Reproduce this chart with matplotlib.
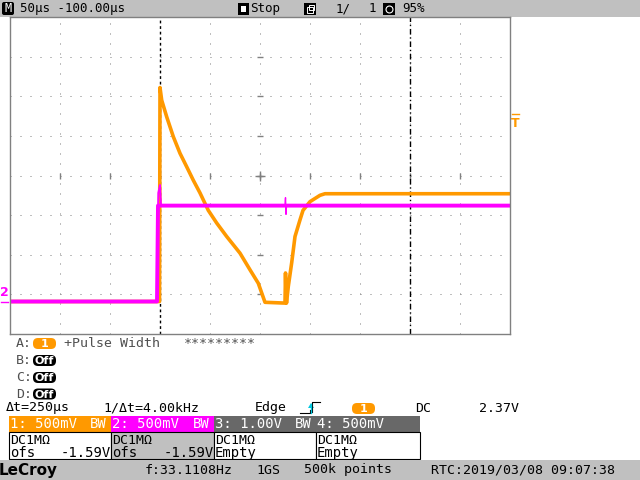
import matplotlib
matplotlib.use("Agg")
import matplotlib.pyplot as plt
from matplotlib.patches import Rectangle, FancyBboxPatch, Polygon

ORANGE = "#ff9900"
MAGENTA = "#ff00ff"
BAR_GRAY = "#c0c0c0"
DARK_GRAY = "#686868"
MONO = "DejaVu Sans Mono"

# scope settings
time_per_div = 50        # us / div
volts_per_div = 0.5      # V / div
offset = -1.59           # V
trig_level = 2.37        # V
cursor_t = 250           # us
t_left, t_right = -150, 350

# channel 1 (orange): time in us from trigger, volts
ch1_t = [-150, 0, 0.5, 2.2, 7.2, 13.8, 20.5, 27.2, 33.8, 40.5, 48.8, 57.2, 67.2,
         80.5, 90.5, 98.8, 105.5, 125.5, 126, 126.5, 127, 128.8, 132.2, 135.5,
         140.5, 143.5, 150.5, 160.5, 165.5, 350]
ch1_v = [0.0, 0.0, 2.70, 2.54, 2.33, 2.08, 1.87, 1.70, 1.53, 1.37, 1.15, 0.99, 0.82,
         0.61, 0.40, 0.23, -0.01, -0.02, 0.36, 0.10, -0.02, 0.19, 0.49, 0.82,
         1.03, 1.15, 1.26, 1.34, 1.36, 1.36]

# channel 2 (magenta)
ch2_t = [-150, -2.5, -1.5, 1.5, 350]
ch2_v = [0.0, 0.0, 1.21, 1.21, 1.21]
# short glitches on channel 2 (edge overshoot and spike at 126 us)
ch2_edge_t = [-2.5, -2.0, -1.2, 0.5, 1.5]
ch2_edge_v = [0.0, 0.68, 1.37, 1.47, 1.21]
ch2_glitch_t = [125.5, 126, 126.5, 127]
ch2_glitch_v = [1.21, 1.31, 1.10, 1.21]

# channel boxes
ch_headers = ["1: 500mV", "2: 500mV", "3: 1.00V", "4: 500mV"]
ch_bw = ["BW", "BW", "BW", ""]
ch_coupling = ["DC1M\u03a9"] * 4
ch_offsets = ["-1.59V", "-1.59V", None, None]
ch_head_colors = [ORANGE, MAGENTA, DARK_GRAY, DARK_GRAY]
ch_body_colors = ["white", BAR_GRAY, "white", "white"]

fig = plt.figure(figsize=(6.4, 4.8), dpi=100)
fig.patch.set_facecolor("white")

# overlay in pixel coordinates for the instrument UI
ui = fig.add_axes([0, 0, 1, 1], zorder=0)
ui.set_xlim(0, 640)
ui.set_ylim(480, 0)
ui.axis("off")


def txt(x, y, s, size=9.5, color="black", ha="left", **kw):
    ui.text(x, y, s, fontsize=size, color=color, ha=ha, va="center",
            family=MONO, **kw)


def pill(x, y, w, h, color, label, tcolor="white"):
    ui.add_patch(FancyBboxPatch((x, y), w, h, boxstyle="round,pad=0,rounding_size=5",
                                fc=color, ec="none"))
    ui.text(x + w / 2, y + h / 2 + 0.5, label, fontsize=8, color=tcolor, ha="center",
            va="center", family="DejaVu Sans", fontweight="bold")


# top bar
ui.add_patch(Rectangle((0, 0), 640, 17, fc=BAR_GRAY, ec="none"))
ui.add_patch(FancyBboxPatch((2, 2), 12, 13, boxstyle="round,pad=0,rounding_size=2",
                            fc="black", ec="none"))
txt(8, 9, "M", size=8.5, color="white", ha="center")
txt(20, 8.5, "50\u00b5s -100.00\u00b5s", size=9)
ui.add_patch(Rectangle((238, 3), 11, 12, fc="black", ec="none"))
ui.add_patch(Rectangle((241, 6), 5, 6, fc="white", ec="none"))
txt(250, 8.5, "Stop", size=9)
ui.add_patch(Rectangle((304, 3), 12, 12, fc="black", ec="none"))
ui.add_patch(Rectangle((307, 7), 6, 6, fc="none", ec="white", lw=0.7))
ui.add_patch(Rectangle((309, 5), 5, 5, fc="none", ec="white", lw=0.7))
txt(336, 8.5, "1/", size=9)
txt(369, 8.5, "1", size=9)
ui.add_patch(Rectangle((383, 3), 12, 12, fc="black", ec="none"))
ui.plot(389, 9, "o", ms=5, mfc="none", mec="white", mew=0.8)
txt(402, 8.5, "95%", size=9)

# trigger position marker and side markers
ui.add_patch(Polygon([(156, 17.5), (163, 17.5), (159.5, 21.5)], fc=ORANGE, ec="none"))
ui.plot([512, 519], [113.5, 113.5], color=ORANGE, lw=1)
ui.text(515.5, 123.5, "T", fontsize=9, color=ORANGE, ha="center", va="center",
        family="DejaVu Sans", fontweight="bold")
ui.text(4.5, 292, "2", fontsize=9, color=MAGENTA, ha="center", va="center",
        family="DejaVu Sans", fontweight="bold")
ui.plot([1, 8], [302, 302], color=MAGENTA, lw=1)

# measurement rows
row_color = "#505050"
txt(16, 343.5, "A:", color=row_color)
pill(33, 338, 23, 11, ORANGE, "1")
txt(64, 343.5, "+Pulse Width", color=row_color)
txt(184, 343.5, "*********", color=row_color)
for lab, yy in zip(["B:", "C:", "D:"], [360.5, 377.5, 394]):
    txt(16, yy, lab, color=row_color)
    pill(33, yy - 5.5, 23, 11, "black", "Off")

txt(6, 408, "\u0394t=250\u00b5s")
txt(103, 408, "1/\u0394t=4.00kHz")
txt(255, 408, "Edge")
ui.plot([300, 310, 310], [413, 413, 410], color="black", lw=0.8)
ui.plot([312, 312, 320], [412, 402, 402], color="black", lw=0.8)
ui.plot([311, 311], [413, 404], color="#00c8e0", lw=1)
ui.add_patch(Polygon([(308, 408), (314, 408), (311, 403)], fc="#00c8e0", ec="none"))
pill(352, 403, 23, 11, ORANGE, "1")
txt(415, 408, "DC")
txt(479, 408, "2.37V")

# channel boxes
box_x = [9, 111, 214, 316]
box_w = [102, 103, 102, 104]
for i in range(4):
    x, w = box_x[i], box_w[i]
    ui.add_patch(Rectangle((x, 416), w, 15.5, fc=ch_head_colors[i], ec="none"))
    ui.add_patch(Rectangle((x, 431.5), w, 27.5, fc=ch_body_colors[i], ec="black", lw=0.8))
    txt(x + 1, 424, ch_headers[i], color="white", size=10)
    if ch_bw[i]:
        txt(x + w - 4, 424, ch_bw[i], color="white", ha="right", size=10)
    txt(x + 1, 440, ch_coupling[i])
    if ch_offsets[i]:
        txt(x + 1, 453, "ofs", size=10)
        txt(x + w, 453, ch_offsets[i], ha="right", size=10)
    else:
        txt(x + 1, 453, "Empty", size=10)

# status bar
ui.add_patch(Rectangle((0, 459.5), 640, 21, fc=BAR_GRAY, ec="none"))
ui.text(-1, 470, "LeCroy", fontsize=11, color="black", ha="left", va="center",
        family="DejaVu Sans", fontweight="bold")
txt(145, 470, "f:33.1108Hz")
txt(256, 470, "1GS")
txt(304, 470, "500k points")
txt(431, 470, "RTC:2019/03/08 09:07:38")

# scope grid (data axes)
ax = fig.add_axes([9.5 / 640, 1 - 334 / 480, 500 / 640, 317 / 480], zorder=1)
center_v = -offset
ax.set_xlim(t_left, t_right)
ax.set_ylim(center_v - 4 * volts_per_div, center_v + 4 * volts_per_div)
ax.set_xticks([])
ax.set_yticks([])
for s in ax.spines.values():
    s.set_color("#808080")
    s.set_linewidth(1)

grid_t = [t_left + k * time_per_div for k in range(1, 10)]
grid_v = [center_v + k * volts_per_div for k in range(-3, 4)]
for t in grid_t:
    if t != 0:
        ax.axvline(t, color="#808080", lw=0.72, ls=(0, (1, 9)))
for v in grid_v:
    ax.axhline(v, color="#808080", lw=0.72, ls=(0, (1, 9)))
center_t = (t_left + t_right) / 2
ax.plot([center_t] * len(grid_v), grid_v, ls="none", marker="_", ms=5, color="#808080", mew=1)
ax.plot(grid_t, [center_v] * len(grid_t), ls="none", marker="|", ms=5, color="#808080", mew=1)
ax.plot(center_t, center_v, marker="+", ms=7, color="#808080", mew=1)

ax.axvline(0, color="black", lw=1, ls=(0, (2, 2)))
ax.axvline(cursor_t, color="black", lw=1, ls=(0, (4, 2, 1, 2)))

ax.plot(ch1_t, ch1_v, color=ORANGE, lw=2.6, solid_joinstyle="round")
ax.plot(ch2_t, ch2_v, color=MAGENTA, lw=2.8, solid_joinstyle="round")
ax.plot(ch2_edge_t, ch2_edge_v, color=MAGENTA, lw=1.4)
ax.plot(ch2_glitch_t, ch2_glitch_v, color=MAGENTA, lw=1.0)

fig.savefig("out.png", dpi=100)
